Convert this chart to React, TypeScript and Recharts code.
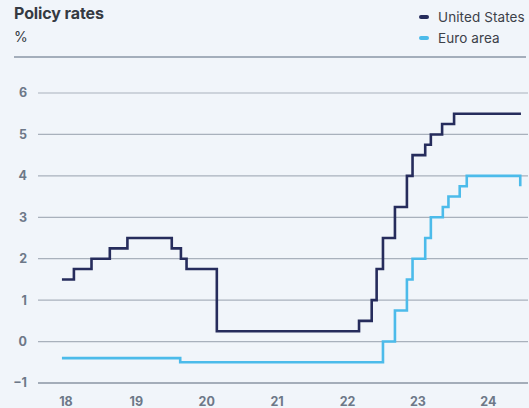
import React from "react";
import { LineChart, Line, XAxis, YAxis, CartesianGrid } from "recharts";

const title = "Policy rates";
const unit = "%";
const seriesNames = ["United States", "Euro area"];
const seriesColors = ["#262c5c", "#4cbbea"];

const usDates = [2018.0, 2018.17, 2018.42, 2018.68, 2018.93, 2019.56, 2019.69, 2019.77, 2020.2, 2022.22, 2022.4, 2022.47, 2022.56, 2022.73, 2022.9, 2022.98, 2023.16, 2023.24, 2023.4, 2023.57, 2024.52];
const usRates = [1.5, 1.75, 2.0, 2.25, 2.5, 2.25, 2.0, 1.75, 0.25, 0.5, 1.0, 1.75, 2.5, 3.25, 4.0, 4.5, 4.75, 5.0, 5.25, 5.5, 5.5];

const euDates = [2018.0, 2019.68, 2022.56, 2022.73, 2022.9, 2022.98, 2023.16, 2023.24, 2023.41, 2023.49, 2023.65, 2023.75, 2024.51];
const euRates = [-0.4, -0.5, 0.0, 0.75, 1.5, 2.0, 2.5, 3.0, 3.25, 3.5, 3.75, 4.0, 3.75];

const xTicks = [2018, 2019, 2020, 2021, 2022, 2023, 2024];
const yTicks = [-1, 0, 1, 2, 3, 4, 5, 6];

const usData = usDates.map((t, i) => ({ t, v: usRates[i] }));
const euData = euDates.map((t, i) => ({ t, v: euRates[i] }));

const FONT = "Inter, 'Noto Sans', sans-serif";
const TICK_COLOR = "#6d7888";

export default function App() {
  return (
    <div
      style={{
        position: "absolute",
        left: 0,
        top: 0,
        width: 529,
        height: 408,
        background: "#f1f5fa",
        fontFamily: FONT,
        overflow: "hidden",
      }}
    >
      <div style={{ position: "absolute", left: 14, top: 3, fontSize: 16, fontWeight: 700, color: "#353a42", letterSpacing: -0.1 }}>
        {title}
      </div>
      <div style={{ position: "absolute", left: 14, top: 28, fontSize: 14, color: "#353a42" }}>{unit}</div>
      <div style={{ position: "absolute", left: 14, top: 56, width: 512, height: 1.5, background: "#a4aebb" }} />
      {seriesNames.map((name, i) => (
        <div key={name} style={{ position: "absolute", left: 419, top: 8 + i * 21, height: 18, display: "flex", alignItems: "center" }}>
          <span style={{ display: "inline-block", width: 10, height: 3.5, borderRadius: 2, background: seriesColors[i], marginRight: 9 }} />
          <span style={{ fontSize: 13.5, color: "#3c4149", letterSpacing: 0.1 }}>{name}</span>
        </div>
      ))}
      <div style={{ position: "absolute", left: 0, top: 0 }}>
        <LineChart width={529} height={408} margin={{ top: 93, right: 1, left: 0, bottom: 0 }}>
          <CartesianGrid horizontal vertical={false} stroke="#a9b1bc" strokeWidth={1.2} />
          <XAxis
            type="number"
            dataKey="t"
            domain={[2017.66, 2024.62]}
            ticks={xTicks}
            allowDataOverflow
            tickFormatter={(v: number) => String(v - 2000)}
            tickLine={false}
            tickSize={0}
            tickMargin={14}
            height={25}
            axisLine={{ stroke: "#7d8797", strokeWidth: 1.2 }}
            tick={{ fill: TICK_COLOR, fontSize: 12.5, fontWeight: 700, fontFamily: FONT, dx: 4 }}
          />
          <YAxis
            type="number"
            domain={[-1, 6]}
            ticks={yTicks}
            width={38}
            axisLine={false}
            tickLine={false}
            tickSize={0}
            tickMargin={11}
            tickFormatter={(v: number) => (v < 0 ? "\u2212" + Math.abs(v) : String(v))}
            tick={{ fill: TICK_COLOR, fontSize: 12.5, fontWeight: 700, fontFamily: FONT }}
          />
          <Line data={euData} dataKey="v" type="stepAfter" stroke={seriesColors[1]} strokeWidth={2.6} dot={false} isAnimationActive={false} />
          <Line data={usData} dataKey="v" type="stepAfter" stroke={seriesColors[0]} strokeWidth={2.6} dot={false} isAnimationActive={false} />
        </LineChart>
      </div>
    </div>
  );
}
